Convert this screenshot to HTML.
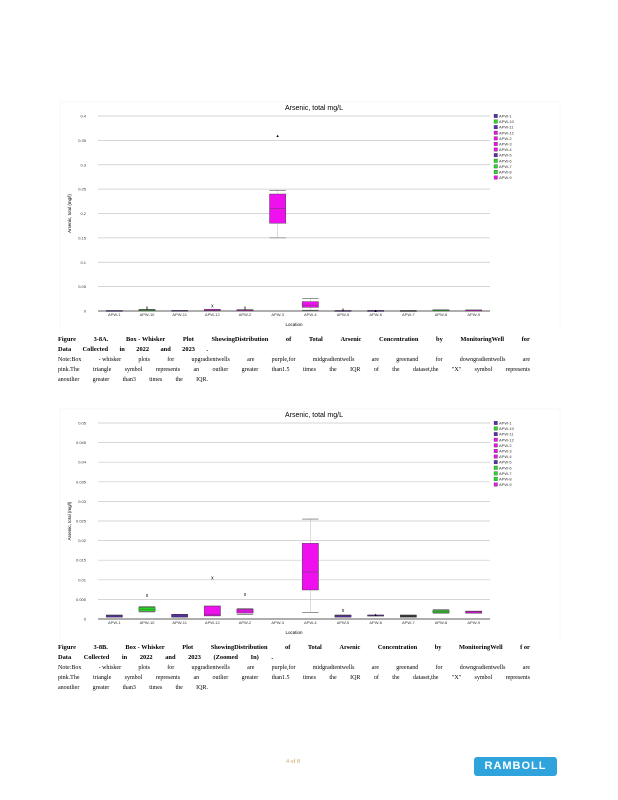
<!DOCTYPE html>
<html><head><meta charset="utf-8">
<style>
body{margin:0;width:618px;height:800px;background:#fff;position:relative;overflow:hidden;font-family:"Liberation Serif",serif;}
.cap{position:absolute;left:58px;width:472px;font-size:6px;line-height:10px;}
.ln{display:flex;justify-content:space-between;white-space:nowrap;}
.b{font-weight:bold;font-size:6.4px;}
svg text{font-family:"Liberation Sans",sans-serif;}
</style></head><body>
<svg id="c1" width="618" height="330" style="position:absolute;left:0;top:0"></svg>
<svg id="c2" width="618" height="240" style="position:absolute;left:0;top:400px"></svg>
<div class="cap" style="top:335px">
<div class="ln b"><span>Figure</span><span>3-8A.</span><span>Box - Whisker</span><span>Plot</span><span>ShowingDistribution</span><span>of</span><span>Total</span><span>Arsenic</span><span>Concentration</span><span>by</span><span>MonitoringWell</span><span>for</span></div>
<div class="ln b" style="width:150px"><span>Data</span><span>Collected</span><span>in</span><span>2022</span><span>and</span><span>2023</span><span>.</span></div>
<div class="ln"><span>Note:Box</span><span>- whisker</span><span>plots</span><span>for</span><span>upgradientwells</span><span>are</span><span>purple,for</span><span>midgradientwells</span><span>are</span><span>greenand</span><span>for</span><span>downgradientwells</span><span>are</span></div>
<div class="ln"><span>pink.The</span><span>triangle</span><span>symbol</span><span>represents</span><span>an</span><span>outlier</span><span>greater</span><span>than1.5</span><span>times</span><span>the</span><span>IQR</span><span>of</span><span>the</span><span>dataset,the</span><span>"X"</span><span>symbol</span><span>represents</span></div>
<div class="ln" style="width:150px"><span>anoutlier</span><span>greater</span><span>than3</span><span>times</span><span>the</span><span>IQR.</span></div>
</div>
<div class="cap" style="top:643px">
<div class="ln b"><span>Figure</span><span>3-8B.</span><span>Box - Whisker</span><span>Plot</span><span>ShowingDistribution</span><span>of</span><span>Total</span><span>Arsenic</span><span>Concentration</span><span>by</span><span>MonitoringWell</span><span>f or</span></div>
<div class="ln b" style="width:215px"><span>Data</span><span>Collected</span><span>in</span><span>2022</span><span>and</span><span>2023</span><span>(Zoomed</span><span>In)</span><span>.</span></div>
<div class="ln"><span>Note:Box</span><span>- whisker</span><span>plots</span><span>for</span><span>upgradientwells</span><span>are</span><span>purple,for</span><span>midgradientwells</span><span>are</span><span>greenand</span><span>for</span><span>downgradientwells</span><span>are</span></div>
<div class="ln"><span>pink.The</span><span>triangle</span><span>symbol</span><span>represents</span><span>an</span><span>outlier</span><span>greater</span><span>than1.5</span><span>times</span><span>the</span><span>IQR</span><span>of</span><span>the</span><span>dataset,the</span><span>"X"</span><span>symbol</span><span>represents</span></div>
<div class="ln" style="width:150px"><span>anoutlier</span><span>greater</span><span>than3</span><span>times</span><span>the</span><span>IQR.</span></div>
</div>
<div style="position:absolute;left:286px;top:759px;font-size:6px;color:#c8a060">4 of 8</div>
<div style="position:absolute;left:474px;top:757px;width:83px;height:19px;background:#2fa3dc;border-radius:3px;color:#fff;font:bold 11px 'Liberation Sans',sans-serif;letter-spacing:1px;text-align:center;line-height:19px">RAMBOLL</div>
<script>
const categories=["APW-1","APW-10","APW-11","APW-12","APW-2","APW-3","APW-4","APW-5","APW-6","APW-7","APW-8","APW-9"];
const boxColors=["#5b2bb0","#22dd22","#5b2bb0","#ee11ee","#ee11ee","#ee11ee","#ee11ee","#5b2bb0","#5b2bb0","#333333","#22dd22","#ee11ee"];
const legendColors=["#5b2bb0","#22dd22","#5b2bb0","#ee11ee","#ee11ee","#ee11ee","#ee11ee","#5b2bb0","#22dd22","#22dd22","#22dd22","#ee11ee"];
const q1s=[0.0005,0.002,0.0005,0.0008,0.0015,0.18,0.0074,0.0005,0.0008,0.0005,0.0016,0.0015];
const medians=[0.0008,0.0025,0.0008,0.0012,0.002,0.21,0.012,0.0008,0.001,0.0008,0.0019,0.0018];
const q3s=[0.001,0.003,0.0012,0.0033,0.0025,0.24,0.0193,0.001,0.001,0.001,0.0022,0.002];
const whiskLo=[0.0005,0.0018,0.0005,0.0008,0.0012,0.15,0.0017,0.0005,0.0008,0.0005,0.0014,0.0015];
const whiskHi=[0.001,0.0032,0.0012,0.0033,0.0027,0.247,0.0255,0.001,0.001,0.001,0.0024,0.002];
const outlierX=[null,0.006,null,0.0105,0.0063,null,null,0.0022,null,null,null,null];
const outlierTri=[null,null,null,null,null,0.36,null,null,0.0012,null,null,null];
const ticks1=[0,0.05,0.1,0.15,0.2,0.25,0.3,0.35,0.4];
const ticks2=[0,0.005,0.01,0.015,0.02,0.025,0.03,0.035,0.04,0.045,0.05];
const NS="http://www.w3.org/2000/svg";
function mk(p,t,a){const e=document.createElementNS(NS,t);for(const k in a)e.setAttribute(k,a[k]);p.appendChild(e);return e;}
function draw(id,ticks,ymax,yTop,yBot,hideAPW3){
 const s=document.getElementById(id);
 const x0=98,x1=490,bw=(x1-x0)/categories.length;
 const y=v=>yBot-(v/ymax)*(yBot-yTop);
 mk(s,'rect',{x:60,y:yTop-14,width:500,height:yBot-yTop+40,fill:'none',stroke:'#f0f0f0','stroke-width':0.5});
 let t=mk(s,'text',{x:(x0+x1)/2+20,y:yTop-6,'font-size':7,'text-anchor':'middle'});t.textContent='Arsenic, total mg/L';
 
 ticks.forEach(v=>{const g=mk(s,'line',{x1:x0,x2:x1,y1:y(v),y2:y(v),stroke:'#c8c8c8','stroke-width':0.7});
  
  const l=mk(s,'text',{x:x0-12,y:y(v)+1.5,'font-size':4,'text-anchor':'end',fill:'#333'});l.textContent=String(v);
  });
 mk(s,'line',{x1:x0,x2:x1,y1:yBot,y2:yBot,stroke:'#333','stroke-width':0.7});
 const yl=mk(s,'text',{transform:`translate(71,${(yTop+yBot)/2}) rotate(-90)`,'font-size':4.5,'text-anchor':'middle'});yl.textContent='Arsenic, total (mg/l)';
 
 const xl=mk(s,'text',{x:(x0+x1)/2,y:yBot+15,'font-size':4.5,'text-anchor':'middle'});xl.textContent='Location';
 
 categories.forEach((c,i)=>{
  const cx=x0+bw*(i+0.5);
  const l=mk(s,'text',{x:cx,y:yBot+5,'font-size':4,'text-anchor':'middle',fill:'#333'});l.textContent=c;
  
  const show=!(hideAPW3&&c==='APW-3')&&q3s[i]<=ymax;
  if(show){
   const w=bw*0.5;
   mk(s,'line',{x1:cx,x2:cx,y1:y(whiskLo[i]),y2:y(whiskHi[i]),stroke:'#bbb','stroke-width':0.5});
   mk(s,'line',{x1:cx-w/2,x2:cx+w/2,y1:y(whiskHi[i]),y2:y(whiskHi[i]),stroke:'#555','stroke-width':0.6});
   mk(s,'line',{x1:cx-w/2,x2:cx+w/2,y1:y(whiskLo[i]),y2:y(whiskLo[i]),stroke:'#555','stroke-width':0.6});
   const h=Math.max(y(q1s[i])-y(q3s[i]),1);
   const b=mk(s,'rect',{x:cx-w/2,y:y(q3s[i]),width:w,height:h,fill:boxColors[i],stroke:'#333','stroke-width':0.4});
   
   mk(s,'line',{x1:cx-w/2,x2:cx+w/2,y1:y(medians[i]),y2:y(medians[i]),stroke:'#444','stroke-width':0.4});
  }
  if(outlierX[i]!==null&&outlierX[i]<=ymax){const o=mk(s,'text',{x:cx,y:y(outlierX[i])+1.5,'font-size':5,'text-anchor':'middle'});o.textContent='x';
   }
  if(outlierTri[i]!==null&&outlierTri[i]<=ymax){const o=mk(s,'text',{x:cx,y:y(outlierTri[i])+1.5,'font-size':4,'text-anchor':'middle'});o.textContent='▲';
   }
 });
 categories.forEach((c,i)=>{
  const ly=yTop+i*5.6;
  mk(s,'rect',{x:494,y:ly-1.8,width:3.5,height:3.5,fill:legendColors[i],stroke:'#333','stroke-width':0.3});
  const l=mk(s,'text',{x:499,y:ly+1.5,'font-size':4,fill:'#333'});l.textContent=c;
  
 });
}
draw('c1',ticks1,0.4,116,311,false);
draw('c2',ticks2,0.05,23,219,true);
</script>
</body></html>
